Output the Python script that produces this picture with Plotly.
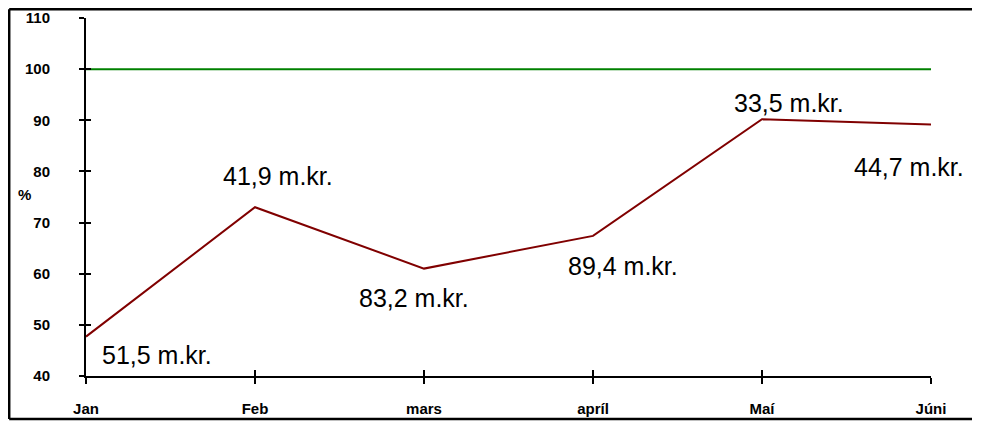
import plotly.graph_objects as go

months = ["Jan", "Feb", "mars", "apríl", "Maí", "Júni"]
pct = [47.7, 73.0, 61.0, 67.4, 90.2, 89.2]
target = [100, 100, 100, 100, 100, 100]
labels = ["51,5 m.kr.", "41,9 m.kr.", "83,2 m.kr.", "89,4 m.kr.", "33,5 m.kr.", "44,7 m.kr."]
label_shift = [(71, -18), (23, 31), (-10, -29), (30, -30), (27, 16), (-22, -43)]
y_ticks = [40, 50, 60, 70, 80, 90, 100, 110]

W, H = 982, 421
OFF = 8  # page offset of the figure
L, R, T, B = 86 - OFF, 51 + OFF, 18 - OFF, 45 + OFF
pw, ph = W - L - R, H - T - B


def px_x(sx):
    return (sx - OFF - L) / pw


def px_y(sy):
    return 1 - (sy - OFF - T) / ph


fig = go.Figure()
fig.add_trace(go.Scatter(x=months, y=target, mode="lines",
                         line=dict(color="#008000", width=2), showlegend=False, hoverinfo="skip"))
fig.add_trace(go.Scatter(x=months, y=pct, mode="lines",
                         line=dict(color="#800000", width=2), showlegend=False))
fig.add_trace(go.Scatter(x=months, y=pct, mode="lines", xaxis="x2", yaxis="y2",
                         line=dict(width=0), opacity=0, showlegend=False, hoverinfo="skip"))

for m, v, t, (dx, dy) in zip(months, pct, labels, label_shift):
    fig.add_annotation(x=m, y=v, text=t, showarrow=False, xshift=dx, yshift=dy,
                       font=dict(family="Liberation Sans, Arial", size=25, color="#000000"))

fig.add_annotation(xref="paper", yref="paper", x=px_x(16), y=px_y(195),
                   text="%", showarrow=False,
                   font=dict(family="Liberation Sans, Arial", size=15, color="#000000", weight="bold"))

# outer frame (top, left, bottom)
fx0, fx1 = (1.2 - L) / pw, px_x(972)
fyt, fyb = 1 + (T - 1.2) / ph, px_y(419)
for (xa, ya, xb, yb_) in [(fx0, fyt, fx1, fyt), (fx0, fyt, fx0, fyb), (fx0, fyb, fx1, fyb)]:
    fig.add_shape(type="line", xref="paper", yref="paper", x0=xa, y0=ya, x1=xb, y1=yb_,
                  line=dict(color="#000000", width=2.5))

tickfont = dict(family="Liberation Sans, Arial", size=15, color="#000000", weight="bold")
fig.update_layout(
    width=W, height=H,
    margin=dict(l=L, r=R, t=T, b=B, autoexpand=False),
    paper_bgcolor="white", plot_bgcolor="white",
    xaxis=dict(type="category", range=[0, 5], showgrid=False, zeroline=False, automargin=False,
               showline=True, linecolor="#000000", linewidth=2,
               ticks="outside", ticklen=6, tickwidth=2, tickcolor="#000000",
               tickfont=tickfont, ticklabelstandoff=12, ticklabeloverflow="allow"),
    yaxis=dict(range=[40, 110], tickvals=y_ticks, showgrid=False, zeroline=False, automargin=False,
               showline=True, linecolor="#000000", linewidth=2,
               ticks="outside", ticklen=5, tickwidth=2, tickcolor="#000000",
               tickfont=tickfont, ticklabelstandoff=26, ticklabeloverflow="allow"),
    xaxis2=dict(type="category", range=[0, 5], overlaying="x", anchor="y2", automargin=False,
                showgrid=False, zeroline=False, showline=False,
                ticks="inside", ticklen=6, tickwidth=2, tickcolor="#000000",
                showticklabels=False, side="bottom"),
    yaxis2=dict(range=[40, 110], tickvals=y_ticks, overlaying="y", anchor="x2", automargin=False,
                showgrid=False, zeroline=False, showline=False,
                ticks="inside", ticklen=5, tickwidth=2, tickcolor="#000000",
                showticklabels=False, side="left"),
)

fig.write_html("out.html")
